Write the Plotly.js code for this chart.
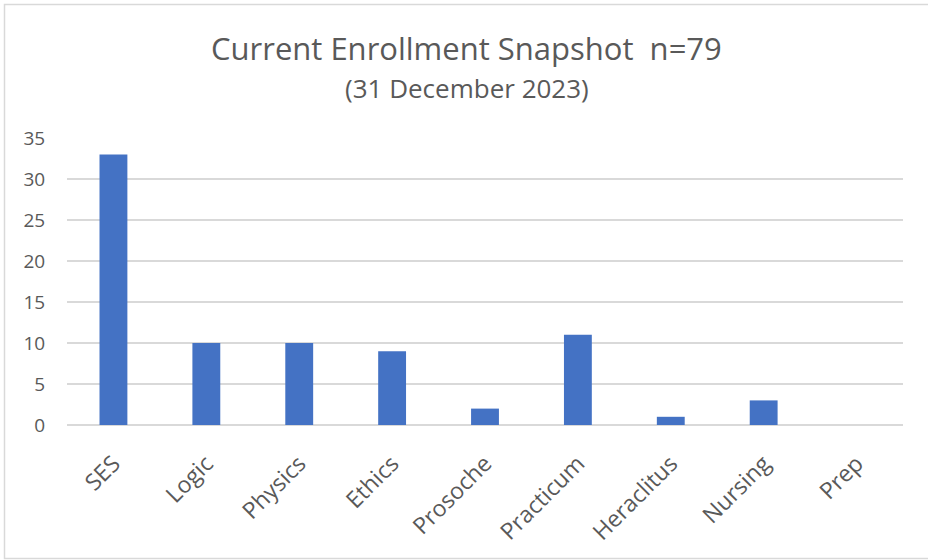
<!DOCTYPE html>
<html>
<head>
<meta charset="utf-8">
<script src="https://cdn.plot.ly/plotly-3.0.1.min.js"></script>
<style>
html,body{margin:0;padding:0;background:#fff;}
#chart{width:928px;height:560px;}
</style>
</head>
<body>
<div id="chart"></div>
<script>
const categories = ["SES","Logic","Physics","Ethics","Prosoche","Practicum","Heraclitus","Nursing","Prep"];
const enrollment = [33,10,10,9,2,11,1,3,0];
const yTicks = [0,5,10,15,20,25,30,35];
const titleText = "Current Enrollment Snapshot  n=79";
const subtitleText = "(31 December 2023)";

const FONT = "Open Sans, Noto Sans, sans-serif";
const GRAY = "#595959";

const PLOT_TOP = 138, PLOT_BOTTOM = 425, PLOT_LEFT = 67, PLOT_RIGHT = 903;
const plotH = PLOT_BOTTOM - PLOT_TOP;
const plotW = PLOT_RIGHT - PLOT_LEFT;
function paperY(px) { return (PLOT_BOTTOM - px) / plotH; }
function paperX(px) { return (px - PLOT_LEFT) / plotW; }

const trace = {
  type: "bar",
  x: categories,
  y: enrollment,
  marker: {color: "#4472C4"},
  hoverinfo: "x+y"
};

const layout = {
  width: 928,
  height: 560,
  margin: {l: PLOT_LEFT, r: 928 - PLOT_RIGHT, t: PLOT_TOP, b: 560 - PLOT_BOTTOM},
  paper_bgcolor: "#ffffff",
  plot_bgcolor: "#ffffff",
  showlegend: false,
  bargap: 0.7,
  font: {family: FONT, color: GRAY},
  xaxis: {
    type: "category",
    tickangle: -45,
    tickfont: {size: 23, color: GRAY, family: FONT},
    showgrid: false,
    showline: false,
    zeroline: false,
    ticks: "outside",
    ticklen: 15,
    tickcolor: "rgba(0,0,0,0)",
    automargin: false
  },
  yaxis: {
    range: [0, 35],
    tickvals: yTicks,
    tickfont: {size: 19, color: GRAY, family: FONT},
    showgrid: true,
    gridcolor: "#D9D9D9",
    gridwidth: 1.5,
    zeroline: true,
    zerolinecolor: "#D9D9D9",
    zerolinewidth: 1.5,
    showline: false,
    ticks: "outside",
    ticklen: 17,
    tickcolor: "rgba(0,0,0,0)",
    automargin: false,
    fixedrange: true
  },
  annotations: [
    {text: titleText, xref: "paper", yref: "paper", x: paperX(466), y: paperY(48), xanchor: "center", yanchor: "middle",
     showarrow: false, font: {size: 31, color: GRAY, family: FONT}},
    {text: subtitleText, xref: "paper", yref: "paper", x: paperX(467), y: paperY(88), xanchor: "center", yanchor: "middle",
     showarrow: false, font: {size: 26, color: GRAY, family: FONT}}
  ]
};

Plotly.newPlot("chart", [trace], layout, {displayModeBar: false, staticPlot: true}).then(function(gd){
  const svg = gd.querySelector("svg.main-svg");
  if (svg) {
    const ns = "http://www.w3.org/2000/svg";
    const r = document.createElementNS(ns, "rect");
    r.setAttribute("x", 4.5); r.setAttribute("y", 4.5);
    r.setAttribute("width", 928); r.setAttribute("height", 554);
    r.setAttribute("fill", "none"); r.setAttribute("stroke", "#D9D9D9"); r.setAttribute("stroke-width", 1.5);
    svg.appendChild(r);
  }
});
</script>
</body>
</html>
